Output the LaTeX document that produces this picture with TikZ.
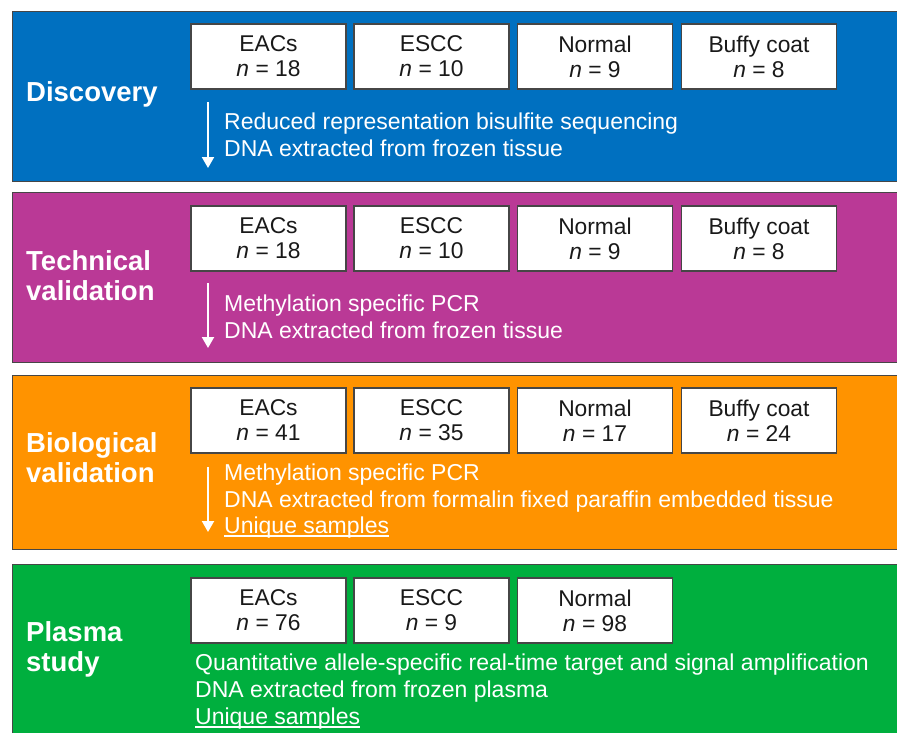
\documentclass[tikz,border=0pt]{standalone}
\usepackage{fontspec}
\setmainfont{Liberation Sans}
\usetikzlibrary{arrows.meta}
\definecolor{cblue}{RGB}{0,112,192}
\definecolor{cpurple}{RGB}{186,57,150}
\definecolor{corange}{RGB}{255,147,0}
\definecolor{cgreen}{RGB}{0,175,62}
\definecolor{cedge}{RGB}{70,70,70}
\definecolor{ctext}{RGB}{25,25,25}
\begin{document}
\begin{tikzpicture}[x=1pt,y=-1pt,
  panel/.style={draw=cedge, line width=1.2pt, rectangle, inner sep=0pt, anchor=north west, minimum width=893pt},
  sbox/.style={draw=cedge, fill=white, line width=1.3pt, rectangle, minimum width=155pt, minimum height=65pt, inner sep=0pt, align=center, text=ctext, font=\fontsize{22.8}{25}\selectfont},
  lab/.style={anchor=base west, inner sep=0pt, text=white, font=\bfseries\fontsize{27.5}{30}\selectfont},
  body/.style={anchor=base west, inner sep=0pt, text=white, font=\fontsize{23}{27}\selectfont},
  arr/.style={draw=white, line width=2pt, -{Triangle[width=12pt,length=11pt]}},
  uline/.style={draw=white, line width=1.1pt}]
\clip (0,0) rectangle (897,732);
\fill[white] (0,0) rectangle (897,732);

% panels
\node[panel, fill=cblue,   minimum height=170pt] (p1) at (12,11) {};
\node[panel, fill=cpurple, minimum height=170pt] (p2) at (12,192) {};
\node[panel, fill=corange, minimum height=174pt] (p3) at (12,375) {};
\node[panel, fill=cgreen,  minimum height=190pt] (p4) at (12,564) {};

% labels
\node[lab] (l1) at (26,101) {Discovery};
\node[lab] (l2a) at (26,270) {Technical};
\node[lab] (l2b) at (26,300) {validation};
\node[lab] (l3a) at (26,452) {Biological};
\node[lab] (l3b) at (26,482) {validation};
\node[lab] (l4a) at (26,641) {Plasma};
\node[lab] (l4b) at (26,671) {study};

% discovery boxes
\node[sbox] (d1) at (268.5,56.5) {EACs\\\textit{n} = 18};
\node[sbox] (d2) at (431.5,56.5) {ESCC\\\textit{n} = 10};
\node[sbox] (d3) at (595,56.5) {Normal\\\textit{n} = 9};
\node[sbox] (d4) at (759,56.5) {Buffy coat\\\textit{n} = 8};
% technical boxes
\node[sbox] (t1) at (268.5,238.5) {EACs\\\textit{n} = 18};
\node[sbox] (t2) at (431.5,238.5) {ESCC\\\textit{n} = 10};
\node[sbox] (t3) at (595,238.5) {Normal\\\textit{n} = 9};
\node[sbox] (t4) at (759,238.5) {Buffy coat\\\textit{n} = 8};
% biological boxes
\node[sbox] (b1) at (268.5,420.5) {EACs\\\textit{n} = 41};
\node[sbox] (b2) at (431.5,420.5) {ESCC\\\textit{n} = 35};
\node[sbox] (b3) at (595,420.5) {Normal\\\textit{n} = 17};
\node[sbox] (b4) at (759,420.5) {Buffy coat\\\textit{n} = 24};
% plasma boxes
\node[sbox] (s1) at (268.5,610.5) {EACs\\\textit{n} = 76};
\node[sbox] (s2) at (431.5,610.5) {ESCC\\\textit{n} = 9};
\node[sbox] (s3) at (595,610.5) {Normal\\\textit{n} = 98};

% arrows
\coordinate (a1s) at (208,102); \coordinate (a1e) at (208,168);
\coordinate (a2s) at (208,283); \coordinate (a2e) at (208,348);
\coordinate (a3s) at (208,467); \coordinate (a3e) at (208,532);
\draw[arr] (a1s) -- (a1e);
\draw[arr] (a2s) -- (a2e);
\draw[arr] (a3s) -- (a3e);

% body text
\node[body] (x1a) at (224,129) {Reduced representation bisulfite sequencing};
\node[body] (x1b) at (224,156) {DNA extracted from frozen tissue};
\node[body] (x2a) at (224,311) {Methylation specific PCR};
\node[body] (x2b) at (224,338) {DNA extracted from frozen tissue};
\node[body] (x3a) at (224,480) {Methylation specific PCR};
\node[body] (x3b) at (224,507) {DNA extracted from formalin fixed paraffin embedded tissue};
\node[body] (x3c) at (224,533) {Unique samples};
\node[body] (x4a) at (195,670) {Quantitative allele-specific real-time target and signal amplification};
\node[body] (x4b) at (195,697) {DNA extracted from frozen plasma};
\node[body] (x4c) at (195,724) {Unique samples};
\draw[uline] ([yshift=-3pt]x3c.base west) -- ([yshift=-3pt]x3c.base east);
\draw[uline] ([yshift=-3pt]x4c.base west) -- ([yshift=-3pt]x4c.base east);
\end{tikzpicture}
\end{document}
